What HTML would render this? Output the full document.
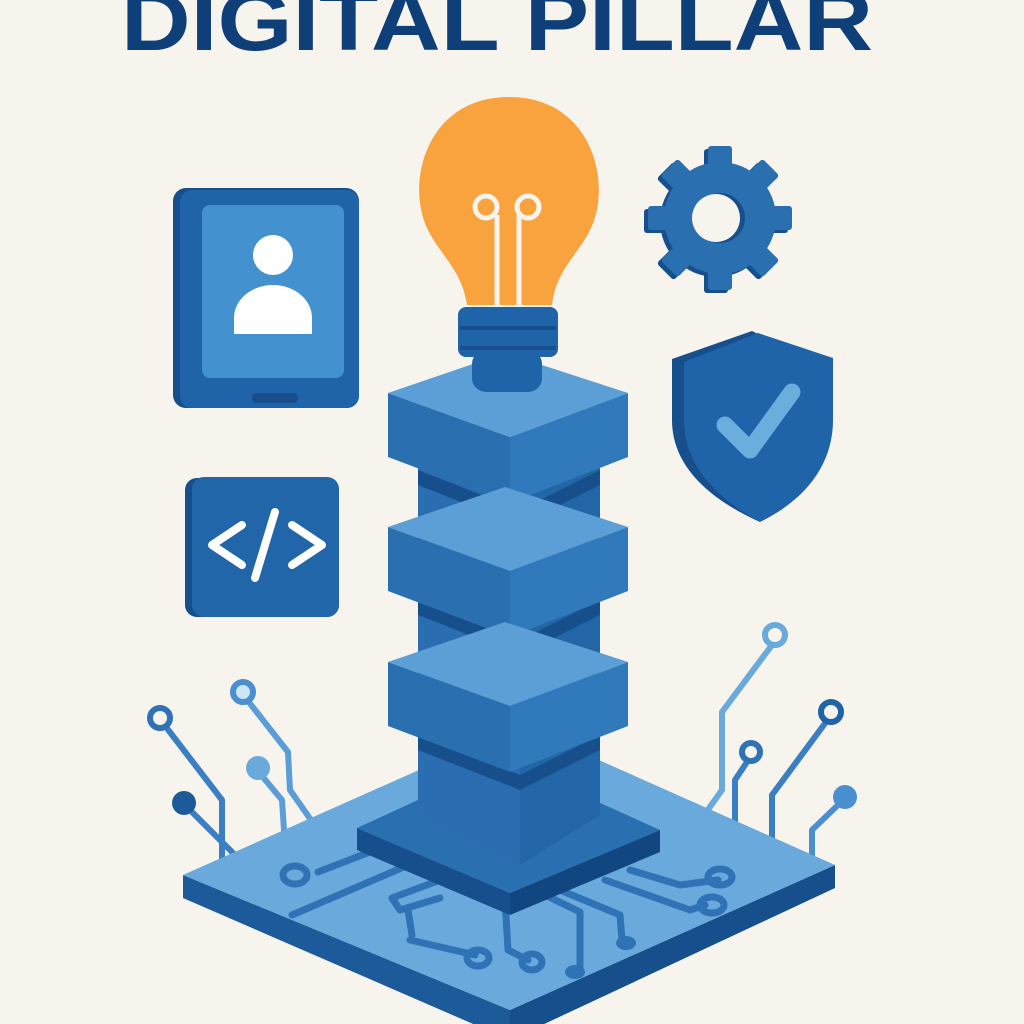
<!DOCTYPE html>
<html><head><meta charset="utf-8"><style>
html,body{margin:0;padding:0;background:#f7f4ee;}
svg{display:block}
</style></head><body>
<svg width="1024" height="1024" viewBox="0 0 1024 1024" xmlns="http://www.w3.org/2000/svg">
<rect width="1024" height="1024" fill="#f7f4ee"/>
<text x="497" y="50" text-anchor="middle" font-family="Liberation Sans, sans-serif" font-weight="bold" font-size="84" fill="#0f3f78" textLength="752" lengthAdjust="spacingAndGlyphs">DIGITAL PILLAR</text>

<!-- circuit wires left -->
<g fill="none" stroke="#3a7fc4" stroke-width="6" stroke-linecap="round" stroke-linejoin="round">
<polyline points="166,727 222,800 222,872"/>
<polyline points="248,701 288,752 290,790 318,830 318,858" stroke="#5b9dd8"/>
<polyline points="262,776 282,800 285,845" stroke="#5b9dd8"/>
<polyline points="190,810 210,830 245,865"/>
<polyline points="772,645 722,712 722,790 690,835 690,872" stroke="#6aa9dc"/>
<polyline points="826,722 772,795 772,858"/>
<polyline points="747,762 735,780 735,840"/>
<polyline points="838,805 812,830 812,870" stroke="#4a8fcf"/>
</g>
<g stroke-width="6">
<circle cx="160" cy="718" r="10" fill="#f7f4ee" stroke="#2f72b6"/>
<circle cx="243" cy="692" r="10" fill="#cde6f6" stroke="#4a8fcf"/>
<circle cx="258" cy="768" r="12" fill="#6aa9dc" stroke="none"/>
<circle cx="184" cy="803" r="12" fill="#1d5a9a" stroke="none"/>
<circle cx="775" cy="635" r="10" fill="#f7f4ee" stroke="#6aa9dc"/>
<circle cx="831" cy="712" r="10" fill="#f7f4ee" stroke="#1f63a8"/>
<circle cx="751" cy="752" r="9" fill="#f7f4ee" stroke="#2f72b6"/>
<circle cx="845" cy="797" r="12" fill="#4a8fcf" stroke="none"/>
</g>

<!-- board -->
<polygon points="183,875 510,1010 510,1040 183,898" fill="#1d5a9a"/>
<polygon points="510,1010 835,865 835,888 510,1040" fill="#164f8c"/>
<polygon points="183,875 520,725 835,865 510,1010" fill="#6aa9dc"/>
<!-- board traces -->
<g fill="none" stroke="#2f72b6" stroke-width="7" stroke-linecap="round" stroke-linejoin="round">
<polyline points="375,850 318,872"/>
<polyline points="420,860 292,915"/>
<polyline points="440,880 392,898 400,910 440,898"/>
<polyline points="408,910 412,935"/>
<polyline points="410,940 475,955"/>
<polyline points="505,900 508,950 528,960"/>
<polyline points="545,895 580,912 580,968"/>
<polyline points="560,890 620,915 622,940"/>
<polyline points="630,870 680,885 718,880"/>
<polyline points="605,880 690,910 705,905"/>
</g>
<g fill="none" stroke="#2f72b6" stroke-width="7">
<ellipse cx="295" cy="875" rx="12" ry="9"/>
<ellipse cx="478" cy="958" rx="11" ry="8"/>
<ellipse cx="532" cy="962" rx="10" ry="8"/>
<ellipse cx="720" cy="877" rx="12" ry="8"/>
<ellipse cx="712" cy="905" rx="12" ry="8"/>
</g>
<ellipse cx="575" cy="972" rx="10" ry="7" fill="#2f72b6"/>
<ellipse cx="626" cy="943" rx="10" ry="7" fill="#2f72b6"/>

<!-- base plate -->
<polygon points="357,828 510,893 510,915 357,850" fill="#164f8c"/>
<polygon points="510,893 660,830 660,852 510,915" fill="#124680"/>
<polygon points="357,828 505,760 660,830 510,893" fill="#2a6fb0"/>

<!-- column -->
<polygon points="418,460 520,500 520,865 418,815" fill="#2a6db0"/>
<polygon points="520,500 600,460 600,815 520,865" fill="#2266a8"/>
<g fill="#164f8c">
<polygon points="418,470 520,510 520,525 418,485"/>
<polygon points="520,510 600,470 600,485 520,525"/>
<polygon points="418,600 520,640 520,655 418,615"/>
<polygon points="520,640 600,600 600,615 520,655"/>
<polygon points="418,735 520,775 520,790 418,750"/>
<polygon points="520,775 600,735 600,750 520,790"/>
</g>

<!-- blocks -->
<g>
<polygon points="388,393 510,437 510,503 388,457" fill="#2a6fb0"/>
<polygon points="510,437 628,393 628,457 510,503" fill="#3079ba"/>
<polygon points="388,393 505,353 628,393 510,437" fill="#5c9ed6"/>

<polygon points="388,527 510,571 510,637 388,591" fill="#2a6fb0"/>
<polygon points="510,571 628,527 628,591 510,637" fill="#3079ba"/>
<polygon points="388,527 505,487 628,527 510,571" fill="#5c9ed6"/>

<polygon points="388,662 510,706 510,772 388,726" fill="#2a6fb0"/>
<polygon points="510,706 628,662 628,726 510,772" fill="#3079ba"/>
<polygon points="388,662 505,622 628,662 510,706" fill="#5c9ed6"/>
</g>

<!-- bulb -->
<path d="M467,305 C462,270 440,255 428,230 C405,185 425,97 509,97 C593,97 613,185 590,230 C578,255 556,270 552,305 Z" fill="#f9a33e"/>
<g fill="none" stroke="#f7f4ee" stroke-width="5">
<circle cx="486" cy="207" r="11"/>
<circle cx="528" cy="207" r="11"/>
<line x1="497" y1="215" x2="497" y2="310"/>
<line x1="519" y1="215" x2="519" y2="310"/>
</g>
<rect x="472" y="350" width="70" height="42" rx="14" fill="#1f63a8"/>
<rect x="458" y="307" width="100" height="50" rx="8" fill="#1f63a8"/>
<line x1="460" y1="328" x2="556" y2="328" stroke="#164f8c" stroke-width="4"/>
<line x1="460" y1="348" x2="556" y2="348" stroke="#164f8c" stroke-width="4"/>

<!-- tablet -->
<rect x="173" y="188" width="186" height="220" rx="13" fill="#164f8c"/>
<rect x="180" y="190" width="179" height="218" rx="12" fill="#1f63a8"/>
<rect x="202" y="205" width="142" height="173" rx="8" fill="#4392cf"/>
<circle cx="273" cy="255" r="20" fill="#fff"/>
<path d="M234,334 L234,318 A39,33 0 0 1 312,318 L312,334 Z" fill="#fff"/>
<rect x="252" y="393" width="46" height="10" rx="4" fill="#164f8c"/>

<!-- code box -->
<rect x="185" y="478" width="154" height="139" rx="12" fill="#164f8c"/>
<rect x="192" y="477" width="147" height="140" rx="12" fill="#2066a9"/>
<g fill="none" stroke="#fff" stroke-width="8" stroke-linecap="round" stroke-linejoin="round">
<polyline points="242,525 212,545 242,565"/>
<polyline points="292,525 322,545 292,565"/>
<line x1="275" y1="512" x2="255" y2="578"/>
</g>

<!-- gear -->
<g transform="translate(720,218)">
<g fill="#164f8c" transform="translate(-4,3)">
<circle r="56"/>
<g id="t"><rect x="-12" y="-72" width="24" height="24" rx="3"/></g>
<use href="#t" transform="rotate(45)"/><use href="#t" transform="rotate(90)"/><use href="#t" transform="rotate(135)"/>
<use href="#t" transform="rotate(180)"/><use href="#t" transform="rotate(225)"/><use href="#t" transform="rotate(270)"/><use href="#t" transform="rotate(315)"/>
</g>
<g fill="#2a6fb0">
<circle r="56"/>
<g id="t2"><rect x="-12" y="-72" width="24" height="24" rx="3"/></g>
<use href="#t2" transform="rotate(45)"/><use href="#t2" transform="rotate(90)"/><use href="#t2" transform="rotate(135)"/>
<use href="#t2" transform="rotate(180)"/><use href="#t2" transform="rotate(225)"/><use href="#t2" transform="rotate(270)"/><use href="#t2" transform="rotate(315)"/>
</g>
<circle cx="0" cy="0" r="25" fill="#164f8c"/>
<circle cx="-4" cy="0" r="24" fill="#f7f4ee"/>
</g>

<!-- shield -->
<path d="M672,359 L752,331 L760,335 L760,522 C700,495 672,460 672,420 Z" fill="#164f8c"/>
<path d="M684,362 L758,333 L833,358 L833,420 C833,465 805,500 760,522 C716,498 684,465 684,420 Z" fill="#1f63a8"/>
<polyline points="725,425 750,450 792,392" fill="none" stroke="#6aaede" stroke-width="17" stroke-linecap="round" stroke-linejoin="round"/>
</svg>
</body></html>
